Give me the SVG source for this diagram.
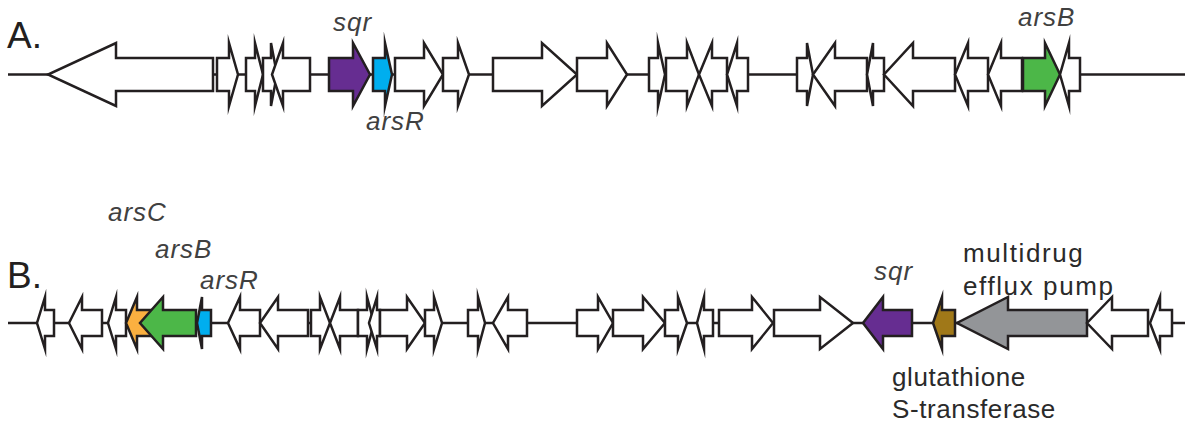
<svg xmlns="http://www.w3.org/2000/svg" width="1187" height="430" viewBox="0 0 1187 430">
  <style>
    .bb { stroke: #231f20; stroke-width: 2.5; fill: none; }
    .g { stroke: #231f20; stroke-width: 2.5; stroke-linejoin: miter; stroke-miterlimit: 10; fill: #ffffff; }
    .purple { fill: #662d91; }
    .blue { fill: #00aeef; }
    .green { fill: #4cb748; }
    .orange { fill: #fbb040; }
    .brown { fill: #a07818; }
    .gray { fill: #939598; }
    .panel { font-family: "Liberation Sans", Arial, sans-serif; font-size: 37px; fill: #231f20; }
    .gn { font-family: "Liberation Sans", Arial, sans-serif; font-size: 26px; font-style: italic; fill: #404040; letter-spacing: 1px; }
    .desc { font-family: "Liberation Sans", Arial, sans-serif; font-size: 26px; fill: #2a2a2a; letter-spacing: 0.6px; }
    .wide { letter-spacing: 1.6px; }
  </style>

  <!-- backbone lines -->
  <g id="connectors">
    <line class="bb" x1="8" y1="74.5" x2="1185" y2="74.5"/>
    <line class="bb" x1="8" y1="323" x2="1185" y2="323"/>
  </g>

  <!-- panel letters -->
  <text class="panel" x="7" y="48">A.</text>
  <text class="panel" x="7" y="288">B.</text>

  <!-- Row A genes: body y 58..91, head y 43..106, axis 74.5 -->
  <g id="rowA">
    <g id="a1"><path class="g" d="M213,58 L116,58 L116,43 L48,74.5 L116,106 L116,91 L213,91 Z"/></g>
    <g id="a2"><path class="g" d="M217,58 L229,58 L229,43 L238,74.5 L229,106 L229,91 L217,91 Z"/></g>
    <g id="a3"><path class="g" d="M246,58 L255,58 L255,43 L263,74.5 L255,106 L255,91 L246,91 Z"/></g>
    <g id="a4"><path class="g" d="M263,58 L271,58 L271,43 L277,74.5 L271,106 L271,91 L263,91 Z"/></g>
    <g id="a5"><path class="g" d="M310,58 L283,58 L283,43 L272,74.5 L283,106 L283,91 L310,91 Z"/></g>
    <g id="a6-sqr"><path class="g purple" d="M329,58 L353,58 L353,43 L370,74.5 L353,106 L353,91 L329,91 Z"/></g>
    <g id="a7-arsR"><path class="g blue" d="M373,58 L385,58 L385,43 L392,74.5 L385,106 L385,91 L373,91 Z"/></g>
    <g id="a8"><path class="g" d="M395,58 L424,58 L424,43 L443,74.5 L424,106 L424,91 L395,91 Z"/></g>
    <g id="a9"><path class="g" d="M443,58 L458,58 L458,43 L469,74.5 L458,106 L458,91 L443,91 Z"/></g>
    <g id="a10"><path class="g" d="M493,58 L542,58 L542,43 L577,74.5 L542,106 L542,91 L493,91 Z"/></g>
    <g id="a11"><path class="g" d="M577,58 L607,58 L607,43 L627,74.5 L607,106 L607,91 L577,91 Z"/></g>
    <g id="a12"><path class="g" d="M649,58 L658,58 L658,43 L665,74.5 L658,106 L658,91 L649,91 Z"/></g>
    <g id="a13"><path class="g" d="M666,58 L687,58 L687,43 L699,74.5 L687,106 L687,91 L666,91 Z"/></g>
    <g id="a14"><path class="g" d="M727,58 L712,58 L712,43 L699,74.5 L712,106 L712,91 L727,91 Z"/></g>
    <g id="a15"><path class="g" d="M748,58 L737,58 L737,43 L727,74.5 L737,106 L737,91 L748,91 Z"/></g>
    <g id="a16"><path class="g" d="M797,58 L807,58 L807,43 L813,74.5 L807,106 L807,91 L797,91 Z"/></g>
    <g id="a17"><path class="g" d="M867,58 L835,58 L835,43 L813,74.5 L835,106 L835,91 L867,91 Z"/></g>
    <g id="a18"><path class="g" d="M884,58 L873,58 L873,43 L867,74.5 L873,106 L873,91 L884,91 Z"/></g>
    <g id="a19"><path class="g" d="M955,58 L913,58 L913,43 L884,74.5 L913,106 L913,91 L955,91 Z"/></g>
    <g id="a20"><path class="g" d="M988,58 L968,58 L968,43 L955,74.5 L968,106 L968,91 L988,91 Z"/></g>
    <g id="a21"><path class="g" d="M1022,58 L1001,58 L1001,43 L988,74.5 L1001,106 L1001,91 L1022,91 Z"/></g>
    <g id="a22-arsB"><path class="g green" d="M1023,58 L1045,58 L1045,43 L1060,74.5 L1045,106 L1045,91 L1023,91 Z"/></g>
    <g id="a23"><path class="g" d="M1080,58 L1069,58 L1069,43 L1060,74.5 L1069,106 L1069,91 L1080,91 Z"/></g>
  </g>

  <!-- Row A labels -->
  <text class="gn" x="333" y="31">sqr</text>
  <text class="gn" x="366" y="130">arsR</text>
  <text class="gn" x="1018" y="26">arsB</text>

  <!-- Row B genes: body y 310..336, head y 297..349, axis 323 -->
  <g id="rowB">
    <g id="b1"><path class="g" d="M54,310 L45,310 L45,297 L37,323 L45,349 L45,336 L54,336 Z"/></g>
    <g id="b2"><path class="g" d="M102,310 L82,310 L82,297 L69,323 L82,349 L82,336 L102,336 Z"/></g>
    <g id="b3"><path class="g" d="M126,310 L116,310 L116,297 L108,323 L116,349 L116,336 L126,336 Z"/></g>
    <g id="b4-arsC"><path class="g orange" d="M160,310 L137,310 L137,297 L126,323 L137,349 L137,336 L160,336 Z"/></g>
    <g id="b5-arsB"><path class="g green" d="M196,310 L163,310 L163,297 L140,323 L163,349 L163,336 L196,336 Z"/></g>
    <g id="b6-arsR"><path class="g blue" d="M211,310 L202,310 L202,297 L197,323 L202,349 L202,336 L211,336 Z"/></g>
    <g id="b7"><path class="g" d="M260,310 L240,310 L240,297 L228,323 L240,349 L240,336 L260,336 Z"/></g>
    <g id="b8"><path class="g" d="M308,310 L278,310 L278,297 L260,323 L278,349 L278,336 L308,336 Z"/></g>
    <g id="b9"><path class="g" d="M311,310 L320,310 L320,297 L330,323 L320,349 L320,336 L311,336 Z"/></g>
    <g id="b10"><path class="g" d="M358,310 L340,310 L340,297 L330,323 L340,349 L340,336 L358,336 Z"/></g>
    <g id="b11"><path class="g" d="M358,310 L367,310 L367,297 L374,323 L367,349 L367,336 L358,336 Z"/></g>
    <g id="b12"><path class="g" d="M380,310 L377,310 L377,297 L369,323 L377,349 L377,336 L380,336 Z"/></g>
    <g id="b13"><path class="g" d="M380,310 L407,310 L407,297 L425,323 L407,349 L407,336 L380,336 Z"/></g>
    <g id="b14"><path class="g" d="M425,310 L434,310 L434,297 L442,323 L434,349 L434,336 L425,336 Z"/></g>
    <g id="b15"><path class="g" d="M468,310 L478,310 L478,297 L485,323 L478,349 L478,336 L468,336 Z"/></g>
    <g id="b16"><path class="g" d="M527,310 L508,310 L508,297 L493,323 L508,349 L508,336 L527,336 Z"/></g>
    <g id="b17"><path class="g" d="M577,310 L598,310 L598,297 L613,323 L598,349 L598,336 L577,336 Z"/></g>
    <g id="b18"><path class="g" d="M613,310 L643,310 L643,297 L665,323 L643,349 L643,336 L613,336 Z"/></g>
    <g id="b19"><path class="g" d="M665,310 L678,310 L678,297 L687,323 L678,349 L678,336 L665,336 Z"/></g>
    <g id="b20"><path class="g" d="M713,310 L704,310 L704,297 L697,323 L704,349 L704,336 L713,336 Z"/></g>
    <g id="b21"><path class="g" d="M719,310 L752,310 L752,297 L773,323 L752,349 L752,336 L719,336 Z"/></g>
    <g id="b22"><path class="g" d="M774,310 L820,310 L820,297 L853,323 L820,349 L820,336 L774,336 Z"/></g>
    <g id="b23-sqr"><path class="g purple" d="M912,310 L883,310 L883,297 L863,323 L883,349 L883,336 L912,336 Z"/></g>
    <g id="b24-gst"><path class="g brown" d="M955,310 L942,310 L942,297 L933,323 L942,349 L942,336 L955,336 Z"/></g>
    <g id="b25-pump"><path class="g gray" d="M1087,310 L1008,310 L1008,297 L957,323 L1008,349 L1008,336 L1087,336 Z"/></g>
    <g id="b26"><path class="g" d="M1148,310 L1112,310 L1112,297 L1087,323 L1112,349 L1112,336 L1148,336 Z"/></g>
    <g id="b27"><path class="g" d="M1172,310 L1160,310 L1160,297 L1150,323 L1160,349 L1160,336 L1172,336 Z"/></g>
  </g>

  <!-- Row B labels -->
  <text class="gn" x="108" y="221">arsC</text>
  <text class="gn" x="155" y="258">arsB</text>
  <text class="gn" x="200" y="289">arsR</text>
  <text class="gn" x="874" y="280">sqr</text>
  <text class="desc wide" x="963" y="262">multidrug</text>
  <text class="desc wide" x="963" y="295">efflux pump</text>
  <text class="desc" x="892" y="386">glutathione</text>
  <text class="desc" x="892" y="418">S-transferase</text>
</svg>
